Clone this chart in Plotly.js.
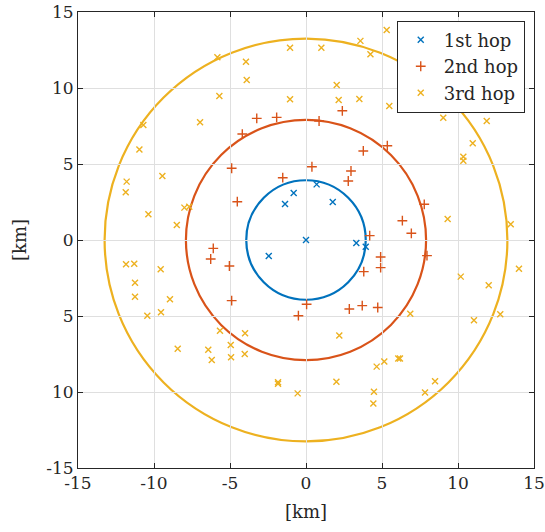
<!DOCTYPE html>
<html>
<head>
<meta charset="utf-8">
<script src="https://cdn.plot.ly/plotly-3.0.1.min.js"></script>
<style>html,body{margin:0;padding:0;background:#fff}</style>
</head>
<body>
<div id="chart" style="width:545px;height:532px"></div>
<script>
// 1st hop nodes
const hop1X = [0, -2.45, -1.38, -0.81, 0.70, 1.76, 3.31, 3.93];
const hop1Y = [0, -1.05, 2.37, 3.09, 3.66, 2.50, -0.20, -0.44];
// 2nd hop nodes
const hop2X = [-3.24, -1.93, 2.39, 0.86, -4.19, 3.77, 5.35, -4.89, 0.39, 2.96, -1.53, 2.78, -4.52, 4.19,
  -6.10, -6.27, -5.04, 3.80, -4.89, 0.04, -0.50, 2.85, 3.70, 4.72, 7.78, 6.34, 6.93, 7.96, 4.91, 4.91];
const hop2Y = [8.00, 8.07, 8.50, 7.83, 6.97, 5.86, 6.20, 4.72, 4.82, 4.54, 4.10, 3.88, 2.52, 0.29,
  -0.55, -1.25, -1.71, -2.08, -3.99, -4.23, -4.98, -4.54, -4.32, -4.44, 2.35, 1.27, 0.44, -1.03, -1.12, -1.82];
// 3rd hop nodes
const hop3X = [-10.70, -6.97, -10.96, -9.45, 3.58, 4.24, -1.05, 1.01, -5.83, -3.95, -3.90, 2.02, -5.70, -1.05,
  2.15, 3.51, 5.31, 5.48, 9.03, 11.89, 10.97, 10.35, 10.35, -11.80, -11.86, -10.37, -8.00, -7.68, -8.50,
  -11.84, -11.30, -9.56, -11.25, -11.25, -8.95, -9.54, -10.44, -8.44, -5.66, -4.01, -4.95, -6.43, 2.19,
  9.32, 13.47, 14.01, 10.18, 12.02, 6.86, 12.78, 11.05, -6.20, -4.93, -4.03, -1.84, -1.84, -0.55, 2.00,
  4.47, 4.43, 4.65, 5.15, 6.07, 6.18, 7.83, 8.49];
const hop3Y = [7.57, 7.74, 5.96, 4.21, 13.10, 12.22, 12.65, 12.65, 12.02, 11.73, 10.53, 10.20, 9.47, 9.26,
  9.21, 9.28, 13.82, 8.82, 8.05, 7.83, 6.36, 5.48, 5.22, 3.84, 3.14, 1.69, 2.13, 2.19, 0.99,
  -1.60, -1.56, -1.93, -2.81, -3.73, -3.90, -4.76, -4.98, -7.15, -5.97, -6.14, -6.91, -7.22, -6.29,
  1.38, 1.03, -1.89, -2.41, -2.98, -4.85, -4.89, -5.28, -7.89, -7.72, -7.50, -9.36, -9.45, -10.09, -9.32,
  -9.98, -10.75, -8.33, -8.00, -7.79, -7.79, -10.04, -9.30];
// coverage radii of the hops [km]
const radii = [3.93, 7.9, 13.25];
const seriesNames = ['1st hop', '2nd hop', '3rd hop'];
const colors = ['#0072BD', '#D95319', '#EDB120'];
const tickVals = [-15, -10, -5, 0, 5, 10, 15];
const xTickText = ['-15', '-10', '-5', '0', '5', '10', '15'];
const yTickText = ['-15', '10', '5', '0', '5', '10', '15'];

const font = 'DejaVu Serif';
const symbols = ['x-thin-open', 'cross-thin-open', 'x-thin-open'];
const xs = [hop1X, hop2X, hop3X], ys = [hop1Y, hop2Y, hop3Y];
const traces = xs.map((x, i) => ({
  type: 'scatter', mode: 'markers', x: x, y: ys[i], name: seriesNames[i],
  marker: {symbol: symbols[i], size: i === 1 ? 7 : 6, color: colors[i], line: {color: colors[i], width: 1.4}}
}));
const shapes = radii.map((r, i) => ({
  type: 'circle', xref: 'x', yref: 'y', x0: -r, x1: r, y0: -r, y1: r,
  line: {color: colors[i], width: 2.2}, layer: 'below'
}));
const axisCommon = {
  range: [-15, 15], tickvals: tickVals, showgrid: true, gridcolor: '#dfdfdf', gridwidth: 1,
  zeroline: false, showline: true, linecolor: '#262626', linewidth: 1, mirror: 'ticks',
  ticks: 'inside', ticklen: 5, tickcolor: '#262626', tickfont: {family: font, size: 17, color: '#262626'}
};
const layout = {
  width: 545, height: 532,
  font: {family: font},
  margin: {l: 78, r: 11, t: 12, b: 64},
  paper_bgcolor: '#fff', plot_bgcolor: '#fff',
  showlegend: true,
  legend: {x: 0.699, y: 0.981, xanchor: 'left', yanchor: 'top', bgcolor: '#fff',
    bordercolor: '#262626', borderwidth: 1, itemwidth: 36, tracegroupgap: 0,
    font: {family: font, size: 18, color: '#262626'}},
  xaxis: Object.assign({}, axisCommon, {ticktext: xTickText,
    title: {text: '[km]', font: {family: font, size: 18, color: '#262626'}, standoff: 12}}),
  yaxis: Object.assign({}, axisCommon, {ticktext: yTickText,
    title: {text: '[km]', font: {family: font, size: 18, color: '#262626'}, standoff: 14}}),
  shapes: shapes
};
Plotly.newPlot('chart', traces, layout, {staticPlot: true, displayModeBar: false});
</script>
</body>
</html>
